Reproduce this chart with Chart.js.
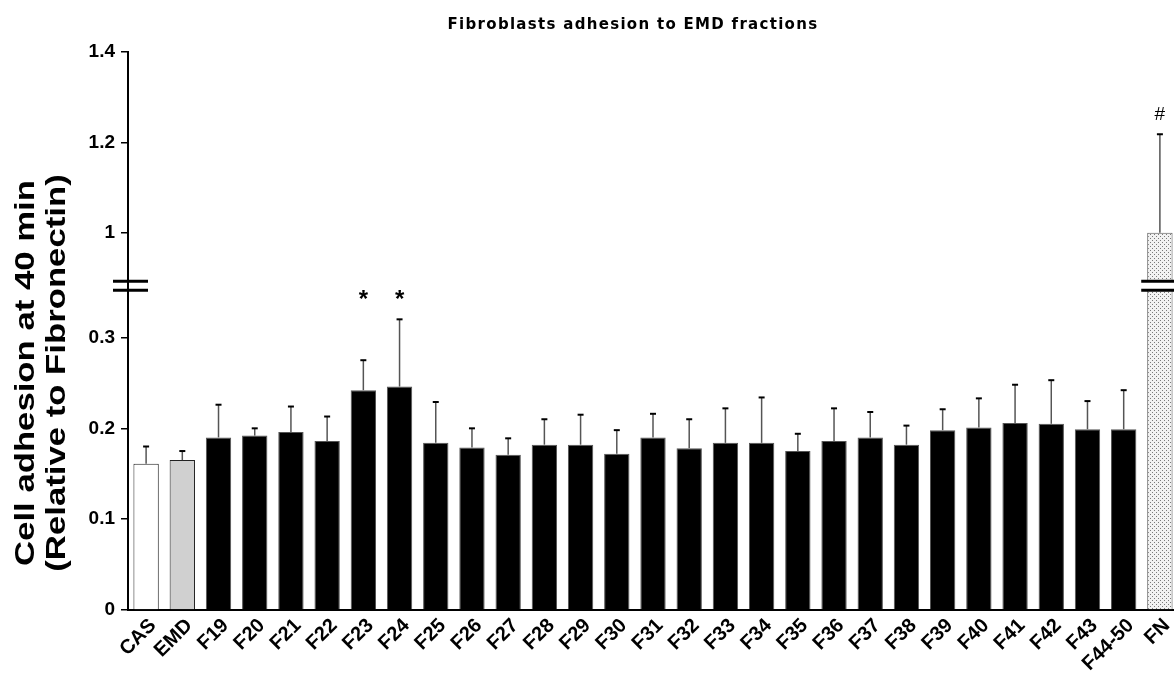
<!DOCTYPE html>
<html>
<head>
<meta charset="utf-8">
<script src="https://cdn.jsdelivr.net/npm/chart.js@4.4.1/dist/chart.umd.min.js"></script>
<style>
  html, body { margin: 0; padding: 0; background: #fff; overflow: hidden; }
  #frame { width: 1174px; height: 679px; overflow: hidden; }
  #wrap { width: 1178px; height: 679px; position: relative; }
</style>
</head>
<body>
<div id="frame"><div id="wrap"><canvas id="adhesionChart"></canvas></div></div>
<script>
// Fibroblast adhesion (40 min), relative to fibronectin, mean + SEM
const categories = ['CAS', 'EMD', 'F19', 'F20', 'F21', 'F22', 'F23', 'F24', 'F25', 'F26',
    'F27', 'F28', 'F29', 'F30', 'F31', 'F32', 'F33', 'F34', 'F35', 'F36', 'F37', 'F38',
    'F39', 'F40', 'F41', 'F42', 'F43', 'F44-50', 'FN'];
const adhesionMean = [0.161, 0.165, 0.190, 0.192, 0.196, 0.186, 0.242, 0.246, 0.184, 0.179,
    0.171, 0.182, 0.182, 0.172, 0.190, 0.178, 0.184, 0.184, 0.175, 0.186, 0.190, 0.182,
    0.198, 0.201, 0.206, 0.205, 0.199, 0.199, 1.0];
const adhesionSem = [0.019, 0.010, 0.036, 0.008, 0.028, 0.027, 0.033, 0.074, 0.045, 0.021,
    0.018, 0.028, 0.033, 0.026, 0.026, 0.032, 0.038, 0.050, 0.019, 0.036, 0.028, 0.021,
    0.023, 0.032, 0.042, 0.048, 0.031, 0.043, 0.218];
const significance = ['', '', '', '', '', '', '*', '*', '', '', '', '', '', '', '', '', '',
    '', '', '', '', '', '', '', '', '', '', '', '#'];

const yTickValues = [0, 0.1, 0.2, 0.3, 1, 1.2, 1.4];
// axis break: lower segment 0..lowerTop, upper segment upperBottom..max
const lowerTop = 0.352;
const upperBottom = 0.8925;

const LOWER_SHARE = 0.573;
const UPPER_SHARE = 0.411;
const FONT = '"Liberation Sans", Arial, sans-serif';

class BrokenLinearScale extends Chart.LinearScale {
    buildTicks() {
        return yTickValues.map(value => ({ value }));
    }
    getPixelForValue(value) {
        if (value === null || value === undefined || isNaN(value)) return NaN;
        const h = this.bottom - this.top;
        const lowH = h * LOWER_SHARE;
        const upH = h * UPPER_SHARE;
        if (value <= lowerTop) {
            return this.bottom - (value - this.min) / (lowerTop - this.min) * lowH;
        }
        if (value >= upperBottom) {
            return this.top + (this.max - value) / (this.max - upperBottom) * upH;
        }
        const gapTop = this.top + upH;
        const gapBottom = this.bottom - lowH;
        return gapBottom - (value - lowerTop) / (upperBottom - lowerTop) * (gapBottom - gapTop);
    }
    getValueForPixel(pixel) {
        const h = this.bottom - this.top;
        const lowH = h * LOWER_SHARE;
        const upH = h * UPPER_SHARE;
        if (pixel >= this.bottom - lowH) {
            return this.min + (this.bottom - pixel) / lowH * (lowerTop - this.min);
        }
        if (pixel <= this.top + upH) {
            return this.max - (pixel - this.top) / upH * (this.max - upperBottom);
        }
        const gapTop = this.top + upH;
        const gapBottom = this.bottom - lowH;
        return lowerTop + (gapBottom - pixel) / (gapBottom - gapTop) * (upperBottom - lowerTop);
    }
}
BrokenLinearScale.id = 'brokenLinear';
BrokenLinearScale.defaults = Chart.LinearScale.defaults;
Chart.register(BrokenLinearScale);

// fine dotted fill for the fibronectin control
function stipple() {
    const tile = document.createElement('canvas');
    tile.width = 4;
    tile.height = 4;
    const t = tile.getContext('2d');
    t.fillStyle = '#f2f2f2';
    t.fillRect(0, 0, 4, 4);
    t.fillStyle = '#7a7a7a';
    t.fillRect(0, 0, 1, 1);
    t.fillRect(2, 2, 1, 1);
    return t.createPattern(tile, 'repeat');
}

const fills = categories.map(c => c === 'CAS' ? '#ffffff' : c === 'EMD' ? '#d0d0d0' : c === 'FN' ? stipple() : '#000000');
const borders = categories.map(c => c === 'CAS' || c === 'EMD' ? '#222' : '#555');

const errorBars = {
    id: 'errorBars',
    afterDatasetsDraw(chart) {
        const ctx = chart.ctx;
        const y = chart.scales.y;
        const bars = chart.getDatasetMeta(0).data;
        ctx.save();
        bars.forEach((bar, i) => {
            const yTop = y.getPixelForValue(adhesionMean[i] + adhesionSem[i]);
            const yBar = y.getPixelForValue(adhesionMean[i]);
            ctx.strokeStyle = '#555';
            ctx.lineWidth = 1.5;
            ctx.beginPath();
            ctx.moveTo(bar.x, yBar);
            ctx.lineTo(bar.x, yTop);
            ctx.stroke();
            ctx.strokeStyle = '#000';
            ctx.lineWidth = 2;
            ctx.beginPath();
            ctx.moveTo(bar.x - 3, yTop);
            ctx.lineTo(bar.x + 3, yTop);
            ctx.stroke();
        });
        ctx.restore();
    }
};

const axisBreak = {
    id: 'axisBreak',
    afterDatasetsDraw(chart) {
        const ctx = chart.ctx;
        const y = chart.scales.y;
        const left = chart.chartArea.left;
        const yHi = y.getPixelForValue(upperBottom);
        const yLo = y.getPixelForValue(lowerTop);
        const bars = chart.getDatasetMeta(0).data;
        const fn = bars[bars.length - 1];
        const fnLeft = fn.x - fn.width / 2;
        ctx.save();
        ctx.fillStyle = '#fff';
        ctx.fillRect(fnLeft - 1, yHi, fn.width + 2, yLo - yHi);
        ctx.strokeStyle = '#000';
        ctx.lineWidth = 3;
        [yHi, yLo].forEach(yy => {
            ctx.beginPath();
            ctx.moveTo(left - 15, yy);
            ctx.lineTo(left + 20, yy);
            ctx.moveTo(fnLeft - 6, yy);
            ctx.lineTo(chart.width, yy);
            ctx.stroke();
        });
        ctx.restore();
    }
};

const textLayer = {
    id: 'textLayer',
    afterDraw(chart) {
        const ctx = chart.ctx;
        const y = chart.scales.y;
        const bars = chart.getDatasetMeta(0).data;
        ctx.save();
        ctx.fillStyle = '#000';
        ctx.textAlign = 'center';
        ctx.textBaseline = 'middle';

        ctx.font = 'bold 15px "DejaVu Sans", sans-serif';
        ctx.letterSpacing = '1.3px';
        ctx.fillText('Fibroblasts adhesion to EMD fractions', 633, 25);
        ctx.letterSpacing = '0px';

        // significance marks above the bars
        const markLevel = y.getPixelForValue(0.345);
        bars.forEach((bar, i) => {
            if (!significance[i]) return;
            const star = significance[i] === '*';
            ctx.font = (star ? 'bold 24px ' : '19px ') + FONT;
            const errTop = y.getPixelForValue(adhesionMean[i] + adhesionSem[i]);
            const yy = Math.min(errTop - 19, markLevel);
            ctx.fillText(significance[i], bar.x, yy + (star ? 4 : 0));
        });

        // y axis title, two lines, slightly widened along the text
        ctx.font = 'bold 28px ' + FONT;
        ctx.translate(0, 373);
        ctx.rotate(-Math.PI / 2);
        ctx.scale(1.24, 1);
        ctx.fillText('Cell adhesion at 40 min', 0, 26);
        ctx.fillText('(Relative to Fibronectin)', 0, 57);
        ctx.restore();
    }
};

new Chart(document.getElementById('adhesionChart'), {
    type: 'bar',
    data: {
        labels: categories,
        datasets: [{
            data: adhesionMean,
            backgroundColor: fills,
            borderColor: borders,
            borderWidth: 1,
            barPercentage: 0.7,
            categoryPercentage: 1
        }]
    },
    options: {
        responsive: true,
        maintainAspectRatio: false,
        animation: false,
        layout: { padding: { top: 52, right: 0, left: 0, bottom: 0 } },
        plugins: {
            legend: { display: false },
            tooltip: { enabled: false }
        },
        scales: {
            x: {
                grid: { display: false },
                border: { display: true, color: '#000', width: 2 },
                ticks: {
                    color: '#000',
                    font: { family: FONT, weight: 'bold', size: 20 },
                    minRotation: 45,
                    maxRotation: 45,
                    autoSkip: false,
                    padding: -4,
                    labelOffset: 7
                },
                afterFit(scale) { scale.height = 69; }
            },
            y: {
                type: 'brokenLinear',
                min: 0,
                max: 1.4,
                grid: { drawOnChartArea: false, drawTicks: true, tickLength: 7, color: '#000', lineWidth: 1.5 },
                border: { display: true, color: '#000', width: 2 },
                ticks: {
                    color: '#000',
                    font: { family: FONT, weight: 'bold', size: 19 },
                    padding: 6,
                    callback: v => String(v)
                },
                afterFit(scale) { scale.width = 128; }
            }
        }
    },
    plugins: [errorBars, axisBreak, textLayer]
});
</script>
</body>
</html>
